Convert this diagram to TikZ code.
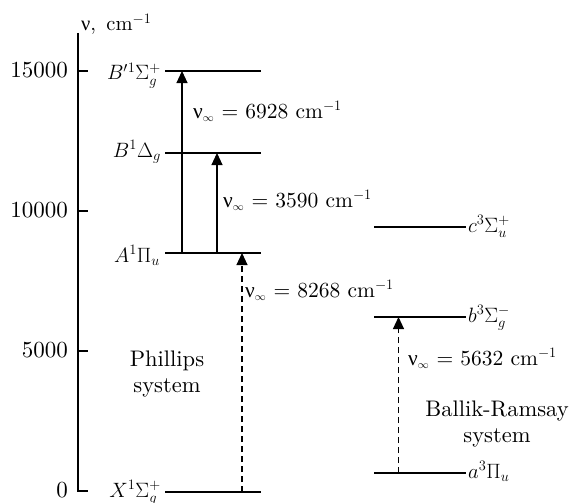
\documentclass[tikz,border=0pt]{standalone}
\usepackage{fontspec}
\setmainfont{lmroman10-regular.otf}[ItalicFont=lmroman10-italic.otf, BoldFont=lmroman10-bold.otf]
\newfontfamily\grk{Liberation Serif}
\usetikzlibrary{arrows.meta}
\newcommand{\nuu}{{\grk ν}}
\newcommand{\nuinf}{\nuu$_{\scriptscriptstyle\infty}$}
\begin{document}
\begin{tikzpicture}[x=1pt,y=-1pt,
  lbl/.style={font=\fontsize{23}{26}\selectfont, inner sep=0pt},
  statelbl/.style={font=\fontsize{20.5}{24}\selectfont, inner sep=0pt},
  translbl/.style={font=\fontsize{21.5}{24}\selectfont, inner sep=0pt, anchor=base west},
  syslbl/.style={font=\fontsize{22.5}{26}\selectfont, inner sep=0pt, align=center},
  lev/.style={line width=1.1pt},
  arr/.style={line width=1.1pt,-{Triangle[length=12pt,width=11pt]}},
  darr/.style={arr, dash pattern=on 6pt off 4pt},
  tickmark/.style={line width=1.1pt}]
\useasboundingbox (0,0) rectangle (570,503);
% axis
\coordinate (axtop) at (78,33);
\coordinate (axbot) at (78,491);
\coordinate (axend) at (88,491);
\draw[line width=1.2pt] (axtop) -- (axbot) -- (axend);
\node[statelbl, anchor=base west] (axlbl) at (81,31) {\nuu, \,cm$^{-1}$};
\foreach \v/\y in {15000/71, 10000/211, 5000/351}{
  \coordinate (t\v a) at (78,\y);
  \coordinate (t\v b) at (88,\y);
  \draw[tickmark] (t\v a) -- (t\v b);
}
\foreach \v/\y in {15000/71, 10000/211, 5000/351, 0/491}{
  \node[lbl, anchor=base east] (n\v) at (68,\y+6.5) {\v};
}
% levels (left)
\coordinate (Bp1) at (165,71);  \coordinate (Bp2) at (261,71);
\coordinate (Bd1) at (165,153); \coordinate (Bd2) at (261,153);
\coordinate (A1)  at (165,253); \coordinate (A2)  at (261,253);
\coordinate (X1)  at (165,492); \coordinate (X2)  at (261,492);
\draw[lev] (Bp1) -- (Bp2);
\draw[lev] (Bd1) -- (Bd2);
\draw[lev] (A1) -- (A2);
\draw[lev] (X1) -- (X2);
% levels (right)
\coordinate (c1) at (374,227); \coordinate (c2) at (466,227);
\coordinate (b1) at (374,317); \coordinate (b2) at (466,317);
\coordinate (a1) at (374,473); \coordinate (a2) at (466,473);
\draw[lev] (c1) -- (c2);
\draw[lev] (b1) -- (b2);
\draw[lev] (a1) -- (a2);
% level labels
\node[statelbl, anchor=base east] (lBp) at (161,80) {$B'{}^1\Sigma_g^+$};
\node[statelbl, anchor=base east] (lBd) at (161,157) {$B^1\Delta_g$};
\node[statelbl, anchor=base east] (lA)  at (160,262) {$A^1\Pi_u$};
\node[statelbl, anchor=base east] (lX)  at (161,497) {$X^1\Sigma_g^+$};
\node[statelbl, anchor=base west] (lc)  at (468,232) {$c^3\Sigma_u^+$};
\node[statelbl, anchor=base west] (lb)  at (468,322) {$b^3\Sigma_g^-$};
\node[statelbl, anchor=base west] (la)  at (468,478) {$a^3\Pi_u$};
% transitions
\coordinate (s1) at (182,253); \coordinate (e1) at (182,71);
\coordinate (s2) at (217,253); \coordinate (e2) at (217,153);
\coordinate (s3) at (242,492); \coordinate (e3) at (242,253);
\coordinate (s4) at (398.5,473); \coordinate (e4) at (398.5,317);
\draw[arr] (s1) -- (e1);
\draw[arr] (s2) -- (e2);
\draw[darr] (s3) -- (e3);
\draw[darr] (s4) -- (e4);
% transition labels
\node[translbl] (t1) at (193,118) {\nuinf{} = 6928 cm$^{-1}$};
\node[translbl] (t2) at (223,207) {\nuinf{} = 3590 cm$^{-1}$};
\node[translbl] (t3) at (245,297) {\nuinf{} = 8268 cm$^{-1}$};
\node[translbl] (t4) at (408,365) {\nuinf{} = 5632 cm$^{-1}$};
% system labels
\node[syslbl] (phil) at (167,374) {Phillips\\system};
\node[syslbl] (ballik) at (497,424) {Ballik-Ramsay\\system};
\end{tikzpicture}
\end{document}
